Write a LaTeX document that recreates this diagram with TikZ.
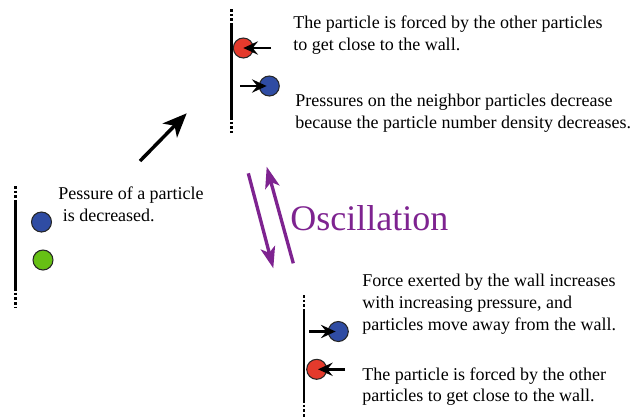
\documentclass[tikz,border=0pt]{standalone}
\usepackage{fontspec}
\setmainfont{Liberation Serif}
\usetikzlibrary{arrows.meta}
\usepackage{xcolor}
\definecolor{particlered}{HTML}{E43A2C}
\definecolor{particleblue}{HTML}{2F4CA3}
\definecolor{particlegreen}{HTML}{66C014}
\definecolor{oscpurple}{HTML}{7E2390}

\tikzset{
  particle/.style={circle, draw=black!85, line width=0.8pt, minimum size=15pt, inner sep=0pt},
  wall/.style={line width=2pt},
  wallend/.style={line width=2pt, dash pattern=on 2pt off 1.5pt},
  push/.style={line width=1.8pt, -{Stealth[length=11pt,width=10pt,inset=4pt]}},
  note/.style={font=\fontsize{13.5}{16.2}\selectfont, align=left, anchor=base west, inner sep=0pt},
}

\begin{document}
\begin{tikzpicture}[x=0.75pt, y=-0.75pt]
  \useasboundingbox (0,0) rectangle (635,419);

  % Left wall
  \draw[wallend] (15.5,186) -- (15.5,201);
  \draw[wall]    (15.5,201) -- (15.5,288);
  \draw[wallend] (15.5,288) -- (15.5,308);
  \node[particle, fill=particleblue]  (blueL)  at (41.5,222) {};
  \node[particle, fill=particlegreen] (greenL) at (43,260)   {};
  \node[note] (noteL) at (58,221) {Pessure of a particle\\\ is decreased.};

  % Arrow up to the top wall
  \coordinate (upS) at (140,161);
  \coordinate (upE) at (186.7,113.3);
  \draw[line width=2.6pt, -{Stealth[length=18pt,width=15pt,inset=5pt]}] (upS) -- (upE);

  % Top wall
  \draw[wallend] (231.7,9) -- (231.7,23);
  \draw[wall]    (231.7,23) -- (231.7,117);
  \draw[wallend] (231.7,117) -- (231.7,133);
  \node[particle, fill=particlered]  (redT)  at (243.3,48) {};
  \node[particle, fill=particleblue] (blueT) at (269.3,86) {};
  \coordinate (pushRT) at (271,48);
  \coordinate (pushBT) at (240,86);
  \draw[push] (pushRT) -- (redT.center);
  \draw[push] (pushBT) -- ([xshift=-2pt]blueT.center);
  \node[note] (noteT1) at (293,50.5) {The particle is forced by the other particles\\to get close to the wall.};
  \node[note] (noteT2) at (295,128)  {Pressures on the neighbor particles decrease\\because the particle number density decreases.};

  % Oscillation
  \coordinate (oscA) at (248.3,173.3);
  \coordinate (oscB) at (273.3,268.3);
  \coordinate (oscC) at (293.3,263.3);
  \coordinate (oscD) at (266.7,166.7);
  \draw[oscpurple, line width=2.5pt, -{Stealth[length=16pt,width=11pt,inset=4pt]}] (oscA) -- (oscB);
  \draw[oscpurple, line width=2.5pt, -{Stealth[length=16pt,width=11pt,inset=4pt]}] (oscC) -- (oscD);
  \node[anchor=base west, inner sep=0pt, text=oscpurple, font=\fontsize{27}{30}\selectfont]
        (osc) at (290,230.5) {Oscillation};

  % Bottom wall
  \draw[wallend] (304,295) -- (304,310);
  \draw[wall]    (304,310) -- (304,400);
  \draw[wallend] (304,400) -- (304,417);
  \node[particle, fill=particleblue] (blueB) at (338.3,331.5) {};
  \node[particle, fill=particlered]  (redB)  at (316.7,369.3) {};
  \coordinate (pushBB) at (309,331.5);
  \coordinate (pushRB) at (345,369.3);
  \draw[push] (pushBB) -- ([xshift=-2pt]blueB.center);
  \draw[push] (pushRB) -- ([xshift=1pt]redB.center);
  \node[note] (noteB1) at (362,330)   {Force exerted by the wall increases\\with increasing pressure, and\\particles move away from the wall.};
  \node[note] (noteB2) at (362,401.7) {The particle is forced by the other\\particles to get close to the wall.};
\end{tikzpicture}
\end{document}
